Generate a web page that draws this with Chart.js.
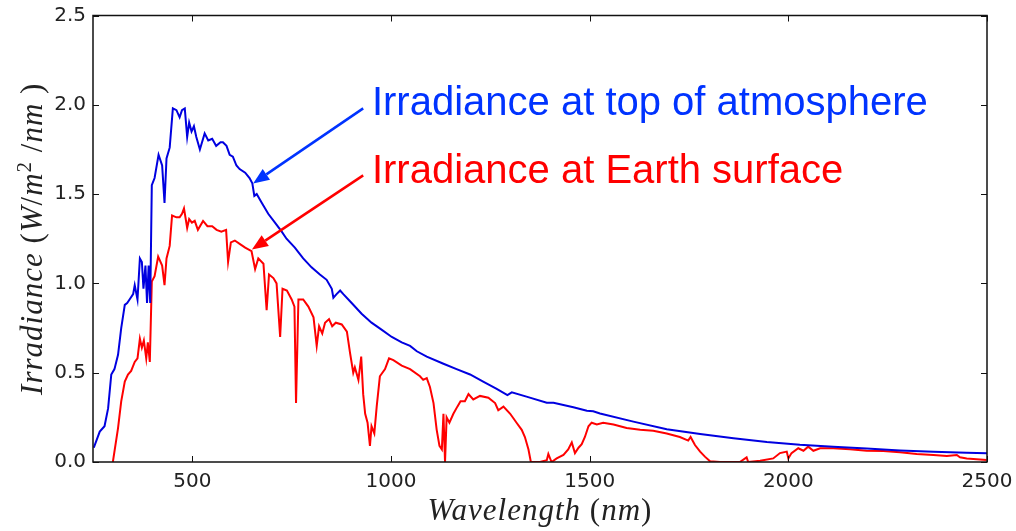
<!DOCTYPE html>
<html>
<head>
<meta charset="utf-8">
<script src="https://cdn.jsdelivr.net/npm/chart.js@4"></script>
<style>
  html, body { margin: 0; padding: 0; background: #fff; }
  #wrap { width: 1016px; height: 531px; }
</style>
</head>
<body>
<div id="wrap"><canvas id="spectrum" width="1016" height="531"></canvas></div>
<script>
// solar spectrum above the atmosphere (nm, W/m^2/nm)
const topWl = [252, 267, 279, 288, 296, 304, 313, 321, 330, 336, 342, 351, 355, 362, 368, 373, 377, 382, 386, 390,
  394, 398, 405, 415, 424, 430, 435, 443, 451, 460, 468, 474, 481, 487, 492, 498, 504, 510, 519, 531,
  540, 550, 560, 571, 577, 586, 594, 602, 611, 619, 633, 644, 651, 656, 662, 675, 691, 708, 725, 737,
  758, 779, 800, 821, 838, 851, 855, 863, 872, 880, 901, 926, 951, 977, 1002, 1027, 1048, 1065, 1090, 1132,
  1165, 1199, 1232, 1266, 1293, 1304, 1341, 1392, 1409, 1459, 1493, 1509, 1526, 1610, 1694, 1778, 1862, 1946, 2029, 2113,
  2197, 2281, 2365, 2449, 2500];
const topVal = [0.08, 0.17, 0.20, 0.30, 0.49, 0.52, 0.60, 0.75, 0.88, 0.89, 0.91, 0.94, 0.99, 0.91, 1.14, 1.12, 0.97, 1.10, 0.89, 1.10,
  0.89, 1.55, 1.59, 1.72, 1.66, 1.45, 1.70, 1.76, 1.98, 1.97, 1.93, 1.97, 1.98, 1.82, 1.90, 1.85, 1.88, 1.82, 1.75, 1.84,
  1.80, 1.81, 1.77, 1.79, 1.79, 1.77, 1.72, 1.71, 1.66, 1.64, 1.62, 1.59, 1.56, 1.49, 1.50, 1.45, 1.39, 1.34, 1.29, 1.25,
  1.20, 1.14, 1.09, 1.05, 1.02, 0.97, 0.92, 0.94, 0.96, 0.94, 0.89, 0.83, 0.78, 0.74, 0.70, 0.67, 0.65, 0.62, 0.59, 0.55,
  0.52, 0.49, 0.45, 0.41, 0.375, 0.39, 0.366, 0.332, 0.332, 0.306, 0.287, 0.284, 0.272, 0.226, 0.183, 0.157, 0.133, 0.112, 0.097, 0.086,
  0.075, 0.065, 0.058, 0.052, 0.049];

// spectrum reaching the ground
const surfWl = [300, 313, 321, 330, 338, 346, 355, 362, 368, 373, 378, 384, 388, 393, 398, 405, 414, 424, 430, 435,
  443, 449, 460, 468, 474, 479, 487, 492, 499, 506, 514, 527, 538, 550, 561, 573, 585, 590, 597, 607,
  620, 633, 649, 658, 666, 679, 687, 693, 704, 712, 721, 727, 738, 750, 757, 761, 767, 779, 792, 805,
  813, 819, 827, 834, 844, 852, 861, 876, 889, 897, 905, 909, 918, 925, 930, 935, 941, 947, 951, 958,
  964, 972, 985, 995, 1006, 1027, 1048, 1073, 1081, 1090, 1098, 1107, 1115, 1122, 1128, 1132, 1136, 1140, 1147, 1157,
  1167, 1175, 1186, 1195, 1207, 1224, 1245, 1262, 1270, 1283, 1300, 1316, 1329, 1337, 1346, 1352, 1375, 1392, 1396, 1404,
  1417, 1434, 1446, 1455, 1463, 1472, 1480, 1488, 1497, 1505, 1518, 1534, 1560, 1593, 1627, 1660, 1694, 1727, 1748, 1754,
  1765, 1778, 1790, 1803, 1828, 1878, 1895, 1899, 1929, 1962, 1979, 1996, 2000, 2008, 2025, 2038, 2050, 2063, 2080, 2113,
  2155, 2197, 2239, 2281, 2323, 2365, 2399, 2424, 2432, 2449, 2474, 2499];
const surfVal = [0.00, 0.19, 0.34, 0.45, 0.49, 0.51, 0.56, 0.58, 0.69, 0.64, 0.68, 0.58, 0.67, 0.56, 1.01, 1.04, 1.15, 1.10, 0.99, 1.14,
  1.21, 1.38, 1.37, 1.37, 1.39, 1.42, 1.31, 1.36, 1.34, 1.35, 1.30, 1.35, 1.32, 1.32, 1.30, 1.29, 1.30, 1.12, 1.23, 1.24,
  1.22, 1.20, 1.18, 1.08, 1.14, 1.11, 0.85, 1.05, 1.03, 1.00, 0.70, 0.97, 0.96, 0.91, 0.87, 0.33, 0.91, 0.91, 0.87, 0.81,
  0.65, 0.76, 0.72, 0.78, 0.80, 0.76, 0.78, 0.77, 0.73, 0.61, 0.50, 0.53, 0.46, 0.59, 0.38, 0.27, 0.22, 0.09, 0.20, 0.16,
  0.31, 0.48, 0.52, 0.58, 0.57, 0.54, 0.52, 0.48, 0.46, 0.47, 0.42, 0.33, 0.18, 0.09, 0.07, 0.27, 0.00, 0.25, 0.22, 0.27,
  0.31, 0.34, 0.34, 0.38, 0.35, 0.37, 0.36, 0.33, 0.29, 0.31, 0.27, 0.22, 0.18, 0.14, 0.07, 0.00, 0.00, 0.01, 0.045, 0.00,
  0.02, 0.04, 0.07, 0.11, 0.05, 0.08, 0.10, 0.14, 0.20, 0.22, 0.21, 0.22, 0.21, 0.19, 0.18, 0.175, 0.16, 0.14, 0.12, 0.14,
  0.095, 0.058, 0.03, 0.004, 0.00, 0.00, 0.026, 0.00, 0.007, 0.02, 0.05, 0.058, 0.02, 0.05, 0.077, 0.063, 0.086, 0.063, 0.077, 0.077,
  0.071, 0.063, 0.062, 0.054, 0.045, 0.039, 0.034, 0.039, 0.026, 0.020, 0.015, 0.011];

const xTicks = [500, 1000, 1500, 2000, 2500];
const yTicks = [0, 0.5, 1.0, 1.5, 2.0, 2.5];

const toPoints = (xs, ys) => xs.map((x, i) => ({ x: x, y: ys[i] }));

// callouts: arrow from the label to a point on the curve
const callouts = [
  { text: 'Irradiance at top of atmosphere', color: '#0033ff', textAt: [952, 1.943], tail: [930, 1.98], tip: [653, 1.56] },
  { text: 'Irradiance at Earth surface', color: '#ff0000', textAt: [952, 1.562], tail: [930, 1.605], tip: [650, 1.19] }
];

const MATH_IT = 'italic 31px "Liberation Serif", serif';
const MATH_RM = '31px "Liberation Serif", serif';

// matplotlib-style box: frame on all sides, short ticks pointing inward
const framePlugin = {
  id: 'frame',
  afterDatasetsDraw(chart) {
    const { ctx, chartArea: a, scales: { x, y } } = chart;
    ctx.save();
    ctx.strokeStyle = '#111';
    ctx.lineWidth = 1.5;
    ctx.strokeRect(a.left, a.top, a.right - a.left, a.bottom - a.top);
    ctx.lineWidth = 1;
    ctx.beginPath();
    xTicks.forEach(v => {
      const px = Math.round(x.getPixelForValue(v)) + 0.5;
      ctx.moveTo(px, a.bottom); ctx.lineTo(px, a.bottom - 6);
      ctx.moveTo(px, a.top); ctx.lineTo(px, a.top + 6);
    });
    yTicks.forEach(v => {
      const py = Math.round(y.getPixelForValue(v)) + 0.5;
      ctx.moveTo(a.left, py); ctx.lineTo(a.left + 6, py);
      ctx.moveTo(a.right, py); ctx.lineTo(a.right - 6, py);
    });
    ctx.stroke();
    ctx.restore();
  }
};

function drawRuns(ctx, runs) {
  // total width first so the whole string can be centred
  let total = 0;
  runs.forEach(r => { ctx.font = r.font; total += ctx.measureText(r.t).width; });
  let cx = -total / 2;
  runs.forEach(r => {
    ctx.font = r.font;
    ctx.fillText(r.t, cx, r.dy || 0);
    cx += ctx.measureText(r.t).width;
  });
}

const labelsPlugin = {
  id: 'labels',
  afterDraw(chart) {
    const { ctx, chartArea: a, scales: { x, y } } = chart;
    ctx.save();
    ctx.fillStyle = '#222';
    ctx.textBaseline = 'alphabetic';
    ctx.textAlign = 'left';
    ctx.letterSpacing = '1px';

    // x axis title
    ctx.save();
    ctx.translate((a.left + a.right) / 2, 520);
    drawRuns(ctx, [
      { t: 'Wavelength', font: MATH_IT },
      { t: ' (', font: MATH_RM },
      { t: 'nm', font: MATH_IT },
      { t: ')', font: MATH_RM }
    ]);
    ctx.restore();

    // y axis title, rotated
    ctx.save();
    ctx.translate(42, (a.top + a.bottom) / 2);
    ctx.rotate(-Math.PI / 2);
    drawRuns(ctx, [
      { t: 'Irradiance', font: MATH_IT },
      { t: ' (', font: MATH_RM },
      { t: 'W', font: MATH_IT },
      { t: '/', font: MATH_RM },
      { t: 'm', font: MATH_IT },
      { t: '2', font: '21px "Liberation Serif", serif', dy: -11 },
      { t: ' /', font: MATH_RM },
      { t: 'nm', font: MATH_IT },
      { t: ' )', font: MATH_RM }
    ]);
    ctx.restore();
    ctx.letterSpacing = '0px';

    // callouts
    callouts.forEach(c => {
      const tx = x.getPixelForValue(c.tail[0]), ty = y.getPixelForValue(c.tail[1]);
      const hx = x.getPixelForValue(c.tip[0]), hy = y.getPixelForValue(c.tip[1]);
      const ang = Math.atan2(hy - ty, hx - tx);
      const headLen = 16, headW = 6.5;
      const bx = hx - headLen * Math.cos(ang), by = hy - headLen * Math.sin(ang);
      ctx.strokeStyle = c.color;
      ctx.fillStyle = c.color;
      ctx.lineWidth = 2.5;
      ctx.beginPath();
      ctx.moveTo(tx, ty);
      ctx.lineTo(bx, by);
      ctx.stroke();
      ctx.beginPath();
      ctx.moveTo(hx, hy);
      ctx.lineTo(bx + headW * Math.sin(ang), by - headW * Math.cos(ang));
      ctx.lineTo(bx - headW * Math.sin(ang), by + headW * Math.cos(ang));
      ctx.closePath();
      ctx.fill();

      ctx.font = '40px "Liberation Sans", Arial, sans-serif';
      ctx.fillText(c.text, x.getPixelForValue(c.textAt[0]), y.getPixelForValue(c.textAt[1]));
    });
    ctx.restore();
  }
};

new Chart(document.getElementById('spectrum'), {
  type: 'line',
  data: {
    datasets: [
      {
        label: 'top of atmosphere',
        data: toPoints(topWl, topVal),
        borderColor: '#0000e0',
        borderWidth: 2,
        pointRadius: 0,
        tension: 0
      },
      {
        label: 'Earth surface',
        data: toPoints(surfWl, surfVal),
        borderColor: '#ff0000',
        borderWidth: 2,
        pointRadius: 0,
        tension: 0
      }
    ]
  },
  options: {
    responsive: false,
    animation: false,
    layout: { padding: { left: 0, top: 15.5, right: 29, bottom: 0 } },
    plugins: {
      legend: { display: false },
      tooltip: { enabled: false }
    },
    scales: {
      x: {
        type: 'linear',
        min: 250,
        max: 2500,
        grid: { display: false, drawTicks: false },
        border: { display: false },
        ticks: {
          padding: 8,
          color: '#222',
          font: { family: '"DejaVu Sans", sans-serif', size: 20 },
          maxRotation: 0,
          callback: v => String(v)
        },
        afterBuildTicks: s => { s.ticks = xTicks.map(v => ({ value: v })); },
        // fixed box; label overflow is left to the layout padding
        afterFit: s => { s.height = 69; s.paddingLeft = 0; s.paddingRight = 0; }
      },
      y: {
        min: 0,
        max: 2.5,
        grid: { display: false, drawTicks: false },
        border: { display: false },
        ticks: {
          padding: 7,
          color: '#222',
          font: { family: '"DejaVu Sans", sans-serif', size: 20 },
          callback: v => v.toFixed(1)
        },
        afterBuildTicks: s => { s.ticks = yTicks.map(v => ({ value: v })); },
        afterFit: s => { s.width = 93; s.paddingTop = 0; s.paddingBottom = 0; }
      }
    }
  },
  plugins: [framePlugin, labelsPlugin]
});
</script>
</body>
</html>
